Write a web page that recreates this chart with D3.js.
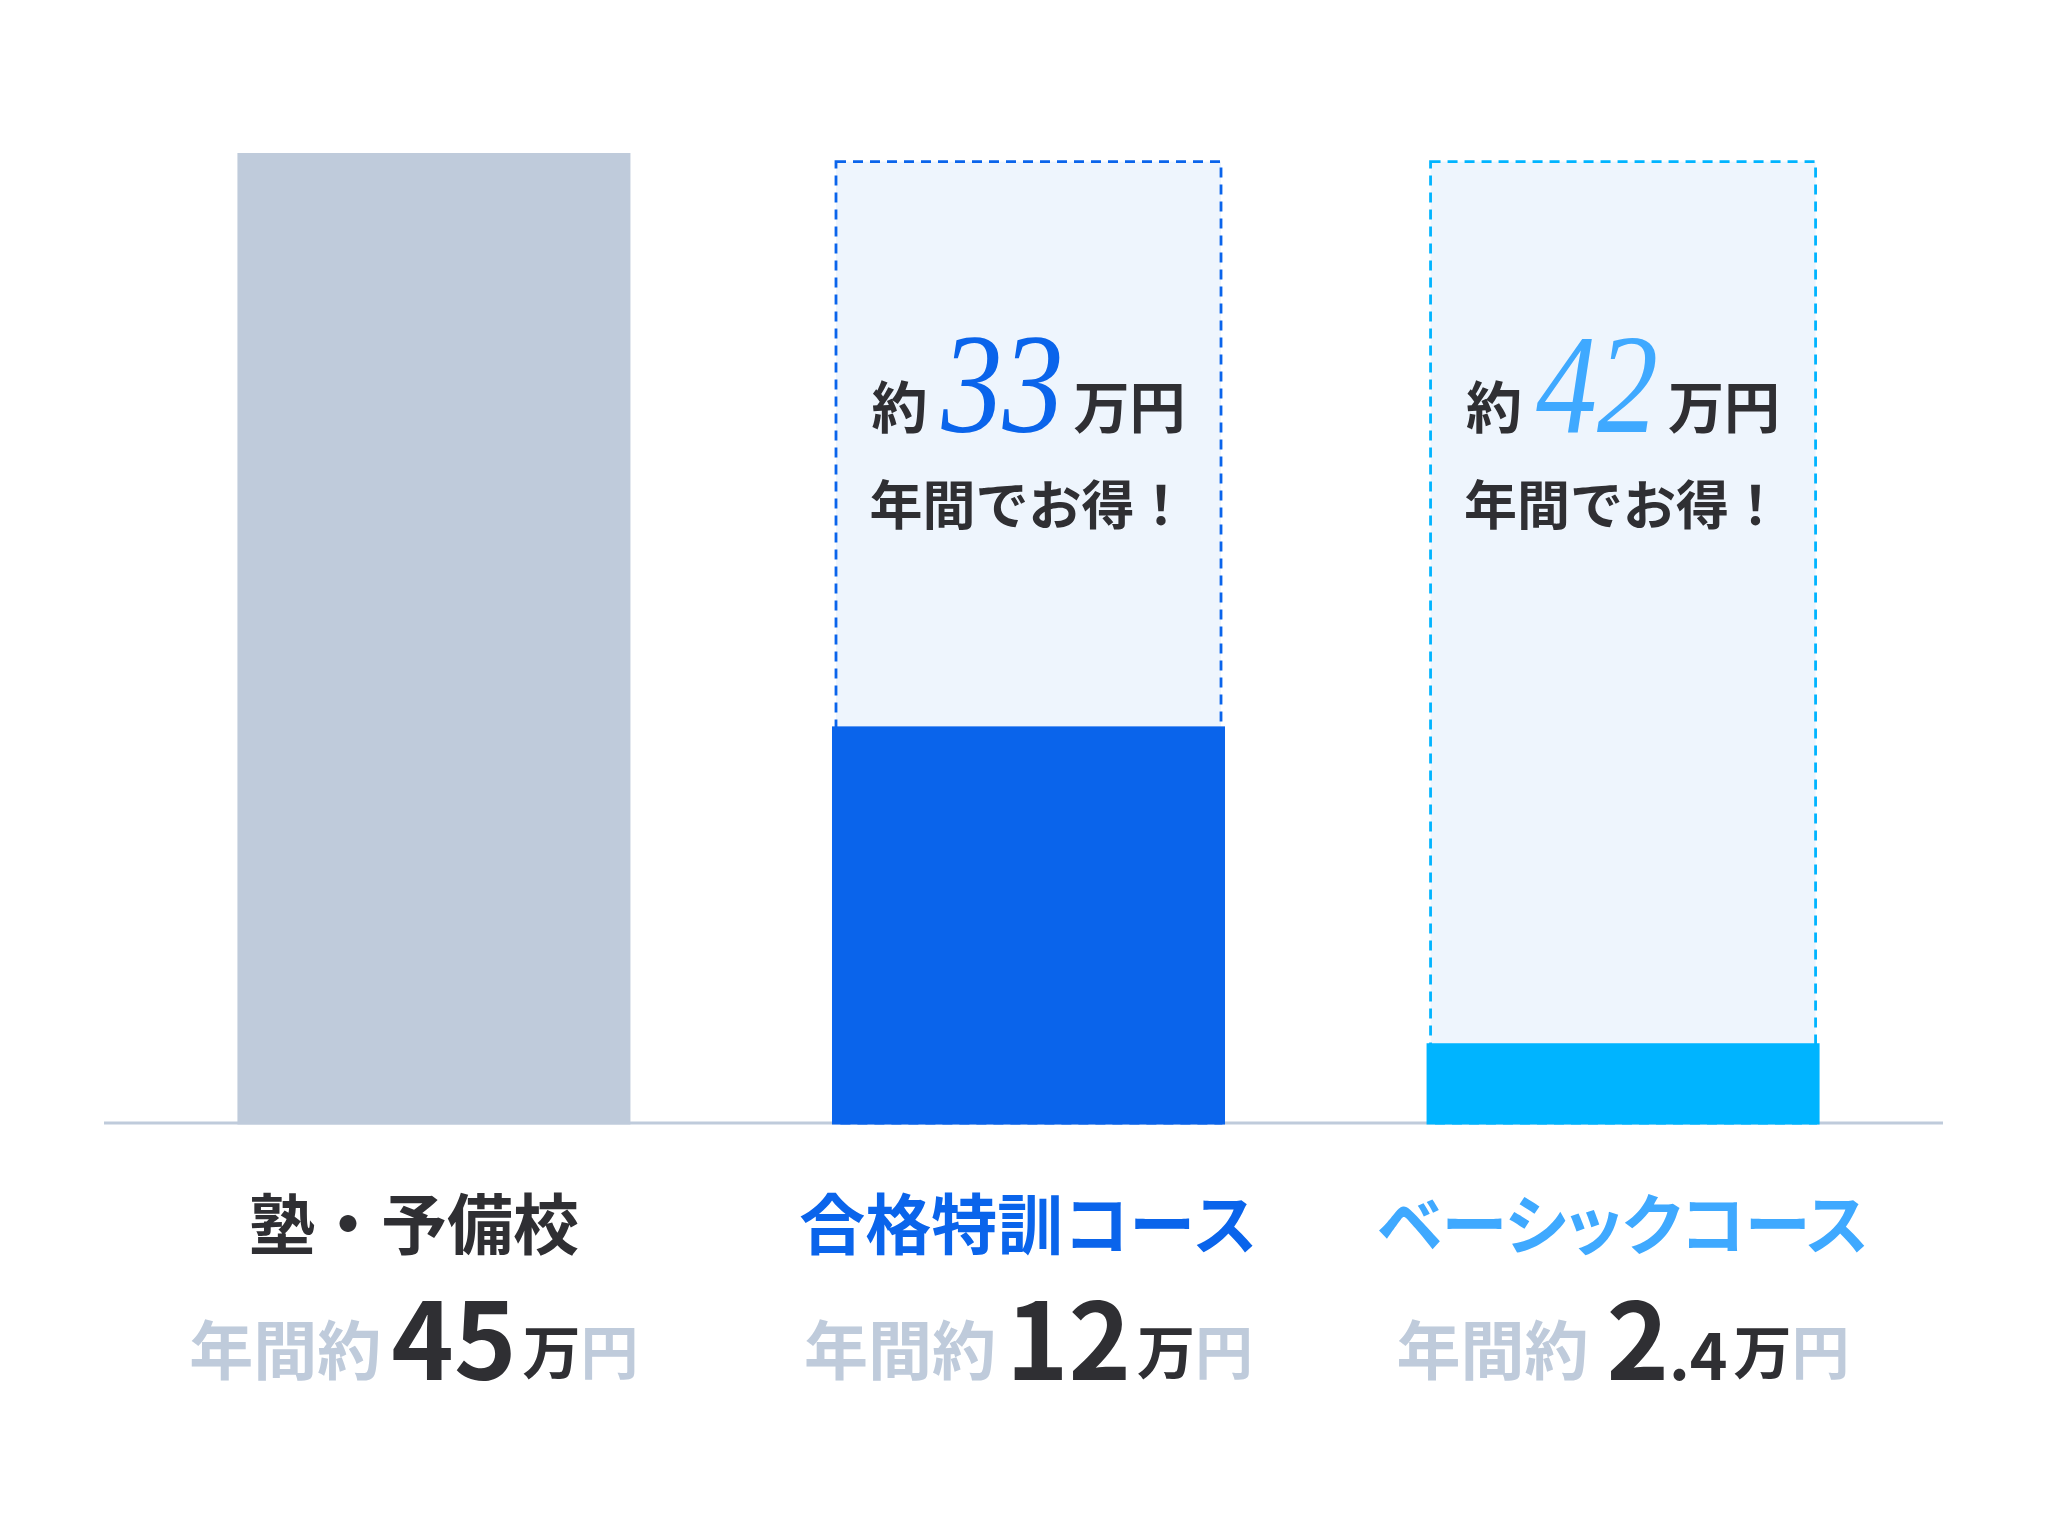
<!DOCTYPE html>
<html><head><meta charset="utf-8">
<script src="https://cdn.jsdelivr.net/npm/d3@7"></script>
<style>
html,body{margin:0;padding:0;background:#fff;}
svg{display:block;}
text{font-family:"Noto Sans CJK JP","Noto Sans",sans-serif;font-weight:700;}
</style></head>
<body>
<script>
// ---- data ----
const categories = ["塾・予備校", "合格特訓コース", "ベーシックコース"];
const costLabelInt = ["45", "12", "2"];        // 年間約 X 万円
const costLabelFrac = ["", "", ".4"];
const barValues = [45, 18.4, 3.7];              // drawn bar heights
const savingsBoxValue = [null, 44.6, 44.6];     // dashed "savings" box heights
const savingsAmount = [null, "33", "42"];       // 約 XX 万円 年間でお得！
const catColors = ["#2f2f33", "#0a64eb", "#3fa9ff"];
const barColors = ["#bfcbdb", "#0a64eb", "#00b4ff"];
const boxStroke = [null, "#0a64eb", "#00b4ff"];
const savingColors = [null, "#0a64eb", "#3fa9ff"];

const W = 2048, H = 1536;
const svg = d3.select("body").append("svg").attr("width", W).attr("height", H);

const x = d3.scaleBand().domain(categories).range([109, 1948]).paddingInner(0.339).paddingOuter(0.216);
const y = d3.scaleLinear().domain([0, 45]).range([1123, 153]);

const idx = categories.map((c, i) => i);
const labelX = i => x(categories[i]) + x.bandwidth() / 2 + (i === 0 ? -20 : 0);

// baseline
svg.append("line").attr("x1", 104).attr("x2", 1943).attr("y1", y(0)).attr("y2", y(0))
  .attr("stroke", "#bfcbdb").attr("stroke-width", 3);

// savings boxes
svg.selectAll("rect.box").data(idx.filter(i => savingsBoxValue[i] != null)).join("rect")
  .attr("class", "box")
  .attr("x", i => x(categories[i]) + 4)
  .attr("width", x.bandwidth() - 8)
  .attr("y", i => y(savingsBoxValue[i]))
  .attr("height", i => y(0) - y(savingsBoxValue[i]))
  .attr("fill", "#eef5fd")
  .attr("stroke", i => boxStroke[i])
  .attr("stroke-width", 2.8)
  .attr("stroke-dasharray", "10,7");

// bars
svg.selectAll("rect.bar").data(idx).join("rect")
  .attr("class", "bar")
  .attr("x", i => x(categories[i]))
  .attr("width", x.bandwidth())
  .attr("y", i => y(barValues[i]))
  .attr("height", i => y(0) - y(barValues[i]) + 1.5)
  .attr("fill", i => barColors[i]);

// savings text
idx.filter(i => savingsAmount[i] != null).forEach(i => {
  const cx = x(categories[i]) + x.bandwidth() / 2;
  const g = svg.append("g");
  const gap = 14, sx = 0.86;
  const t1 = g.append("text").attr("x", 0).attr("y", 428).attr("font-size", 56).attr("fill", "#2f2f33").text("約");
  const w1 = t1.node().getComputedTextLength();
  const tn = g.append("text").attr("y", 432).attr("font-size", 142)
    .style("font-family", "'Liberation Serif','DejaVu Serif',serif").style("font-style", "italic").style("font-weight", 400)
    .attr("fill", savingColors[i]).text(savingsAmount[i]);
  const wn = tn.node().getComputedTextLength() * sx;
  const nx = w1 + gap;
  tn.attr("transform", `translate(${nx},0) scale(${sx},1)`);
  const t3 = g.append("text").attr("x", nx + wn + gap - 4).attr("y", 428).attr("font-size", 56).attr("fill", "#2f2f33").text("万円");
  const total = nx + wn + gap - 4 + t3.node().getComputedTextLength();
  g.attr("transform", `translate(${cx - total / 2},0)`);
  svg.append("text").attr("x", cx).attr("y", 525).attr("text-anchor", "middle").attr("fill", "#2f2f33")
    .attr("font-size", 53).text("年間でお得！");
});

// category labels
svg.selectAll("text.cat").data(idx).join("text")
  .attr("class", "cat")
  .attr("x", labelX)
  .attr("y", 1249)
  .attr("text-anchor", "middle")
  .attr("font-size", 66)
  .style("font-feature-settings", i => i === 2 ? "'palt'" : "normal")
  .attr("fill", i => catColors[i])
  .text(i => categories[i]);

// cost labels
idx.forEach(i => {
  const t = svg.append("text").attr("x", labelX(i)).attr("y", 1374).attr("text-anchor", "middle");
  t.append("tspan").attr("font-size", 64).attr("fill", "#bfcbdb").text("年間約");
  t.append("tspan").attr("font-size", 106).attr("dx", i === 2 ? 18 : 10).attr("dy", 6).attr("fill", "#2f2f33").text(costLabelInt[i]);
  if (costLabelFrac[i]) t.append("tspan").attr("font-size", 64).attr("fill", "#2f2f33").text(costLabelFrac[i]);
  t.append("tspan").attr("font-size", 58).attr("dx", 6).attr("dy", -6).attr("fill", "#2f2f33").text("万");
  t.append("tspan").attr("font-size", 58).attr("fill", "#bfcbdb").text("円");
});
</script>
</body></html>
